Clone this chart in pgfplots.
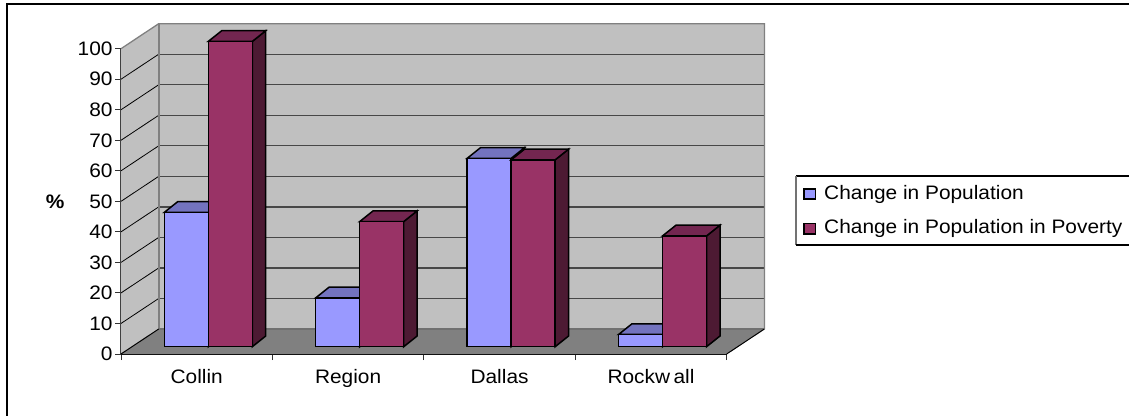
\documentclass[border=0pt]{standalone}
\usepackage{fontspec}
\setmainfont[FakeStretch=1.07]{Liberation Sans}
\usepackage{pgfplots}
\usepackage{pgfplotstable}
\pgfplotsset{compat=1.18}

\definecolor{wallgray}{HTML}{C0C0C0}
\definecolor{floorgray}{HTML}{808080}
\definecolor{popfront}{HTML}{9999FF}
\definecolor{poptop}{HTML}{7373BF}
\definecolor{popside}{HTML}{4D4D80}
\definecolor{povfront}{HTML}{993366}
\definecolor{povtop}{HTML}{732650}
\definecolor{povside}{HTML}{4D1A33}

% Percentage change by county
\pgfplotstableread{
cat pop pov
0 44.0 100.0
1 16.0 41.0
2 61.7 61.2
3 4.0 36.3
}\changes

\newcommand\chartfont{\fontsize{19.5}{22}\selectfont}
\pgfmathsetmacro\barw{44/151.4}
\pgfmathsetmacro\depthx{13.4/151.4}
\pgfmathsetmacro\depthy{10.7/3.053}

% Top and side faces of one bar: column, left edge relative to the category, colours
\newcommand\barcaps[4]{%
  \pgfplotsforeachungrouped \i in {0,1,2,3}{%
    \pgfplotstablegetelem{\i}{#1}\of\changes
    \let\v\pgfplotsretval
    \pgfmathsetmacro\xa{\i+#2}
    \pgfmathsetmacro\xb{\xa+\barw}
    \pgfmathsetmacro\xc{\xb+\depthx}
    \pgfmathsetmacro\xd{\xa+\depthx}
    \pgfmathsetmacro\vt{\v+\depthy}
    \edef\faces{%
      \noexpand\addplot[forget plot, draw=black, line width=1.5pt, fill=#4]
        coordinates {(\xb,0) (\xc,\depthy) (\xc,\vt) (\xb,\v)} --cycle;
      \noexpand\addplot[forget plot, draw=black, line width=1.5pt, fill=#3]
        coordinates {(\xa,\v) (\xd,\vt) (\xc,\vt) (\xb,\v)} --cycle;
    }\faces
  }%
}

\begin{document}
\begin{tikzpicture}[x=1pt,y=1pt]
\clip (0,0) rectangle (1129,415);
% chart frame, open at the bottom and on the right
\draw[black,line width=2pt] (7.3,-2) -- (7.3,410.7) -- (1132,410.7);

% room: walls, floor, scale
\begin{axis}[
  at={(121pt,61pt)}, anchor=south west,
  scale only axis, width=605.7pt, height=305.3pt,
  xmin=0, xmax=4, ymin=0, ymax=100,
  clip=false,
  axis x line=bottom, axis y line=left,
  x axis line style={-,black,line width=1.3pt},
  y axis line style={-,black!75,line width=1.5pt},
  xtick={0,1,2,3,4},
  x tick label as interval,
  xticklabels={Collin,Region,Dallas,Rockw\kern3.5pt all},
  ytick={0,10,...,100},
  tick style={black!80,line width=1pt},
  major tick length=6pt,
  tick align=outside,
  tick label style={font=\chartfont},
  /pgf/number format/assume math mode=true,
  xticklabel style={yshift=-6pt},
  yticklabel style={xshift=1pt},
  ylabel={\bfseries\%},
  every axis y label/.style={at={(axis description cs:-0.1086,0.499)},anchor=center,font=\chartfont},
]
\addplot[forget plot,draw=none,fill=wallgray] coordinates {(0,0) (0,100) (0.249,108.19) (0.249,8.19)} --cycle;
\addplot[forget plot,draw=none,fill=wallgray] coordinates {(0.249,8.19) (0.249,108.19) (4.249,108.19) (4.249,8.19)} --cycle;
\addplot[forget plot,draw=none,fill=floorgray] coordinates {(0,0) (4,0) (4.249,8.19) (0.249,8.19)} --cycle;
\pgfplotsinvokeforeach{10,20,...,90}{
  \draw[black,line width=0.8pt] (axis cs:0,#1) -- ++(37.7pt,25pt);
  \draw[black!72,line width=1.3pt] (axis cs:0,#1) ++(37.7pt,25pt) -- ++(605.7pt,0);
}
\draw[black!50,line width=1.3pt] (axis cs:0,100) -- ++(37.7pt,25pt) -- ++(605.7pt,0) -- ++(0,-305.3pt);
\draw[black!50,line width=2pt] (axis cs:0,0) ++(37.7pt,25pt) -- ++(0,305.3pt);
\draw[black!56,line width=1.5pt] (axis cs:0,0) ++(37.7pt,25pt) -- ++(605.7pt,0);
\draw[black,line width=1pt] (axis cs:4,0) -- ++(37.7pt,25pt);
\draw[black,line width=1pt] (axis cs:0,0) -- ++(37.7pt,25pt);
\end{axis}

% bars stand a little way in from the front edge of the floor
\begin{axis}[
  at={(121pt,61pt)}, anchor=south west,
  scale only axis, width=605.7pt, height=305.3pt,
  xmin=-0.5766, xmax=3.4234, ymin=-2.39, ymax=97.61,
  clip=false,
  axis lines=none,
  legend style={at={(1.1144,0.580)},anchor=north west,draw=none,fill=none,
    font=\chartfont,inner xsep=7pt,inner ysep=6pt,
    /tikz/row sep=15pt},
  legend cell align=left,
  legend image code/.code={\draw[#1,line width=1.6pt] (0pt,-6.2pt) rectangle (11.5pt,4.2pt); \path (17.5pt,0pt);},
]
\barcaps{pop}{-\barw}{poptop}{popside}
\addplot[ybar,bar width=0.2906,bar shift=-0.1453,draw=black,line width=1.5pt,fill=popfront] table[x=cat,y=pop]{\changes};
\addlegendentry{Change in Population}
\barcaps{pov}{0}{povtop}{povside}
\addplot[ybar,bar width=0.2906,bar shift=0.1453,draw=black,line width=1.5pt,fill=povfront] table[x=cat,y=pov]{\changes};
\addlegendentry{Change in Population in Poverty}
\end{axis}

% legend box, running off to the right
\draw[black,line width=1.2pt] (1132,239) -- (796,239);
\draw[black!55,line width=1.5pt] (796,239) -- (796,170);
\draw[black,line width=1.2pt] (796,170) -- (1132,170);
\end{tikzpicture}
\end{document}
